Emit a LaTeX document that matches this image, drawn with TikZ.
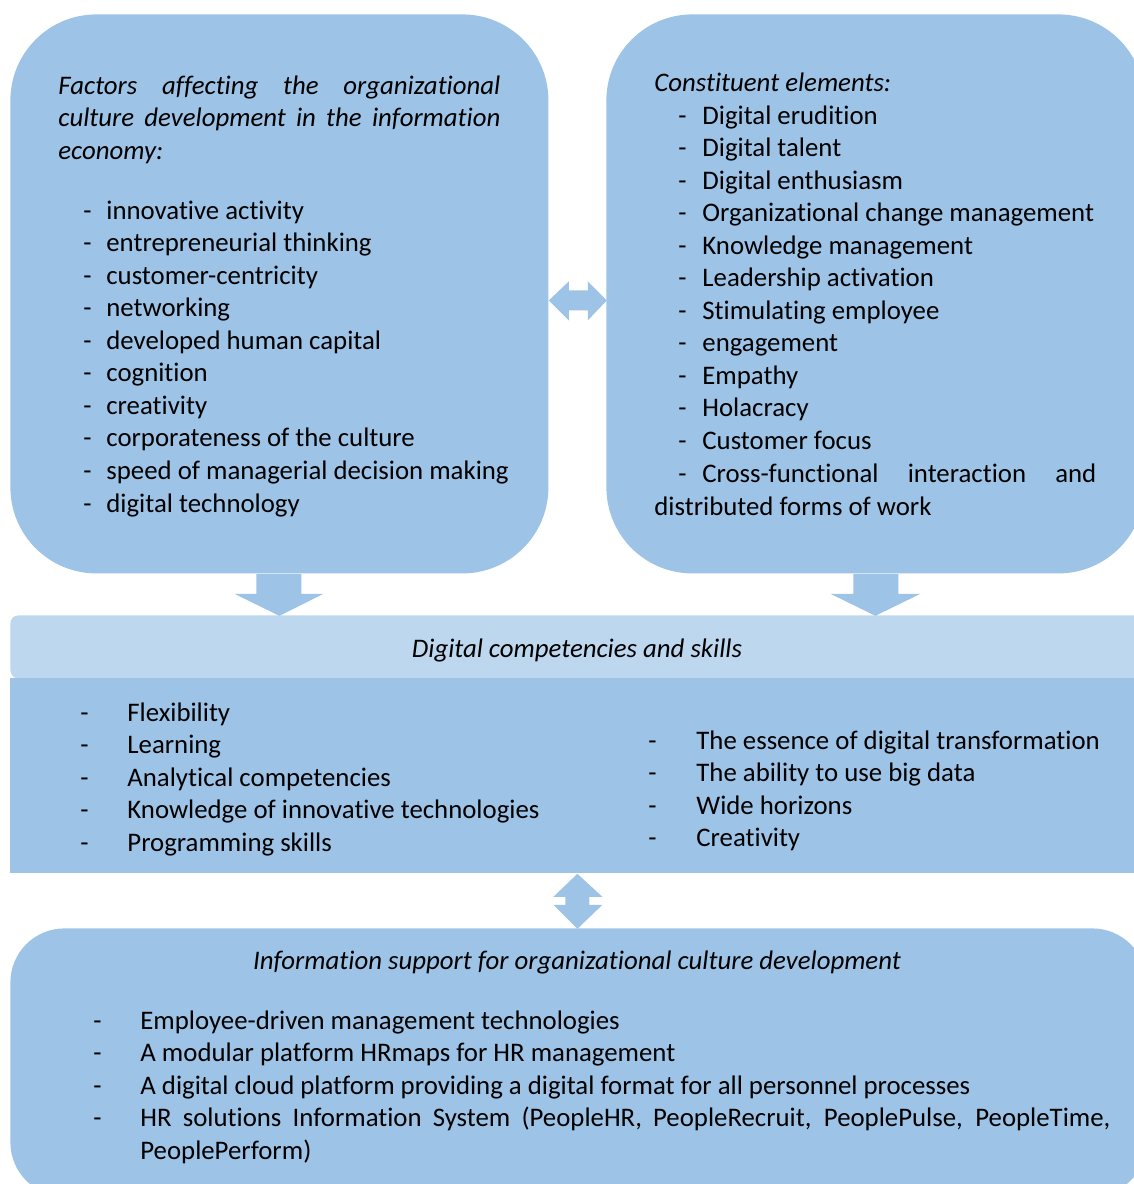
\documentclass[tikz,border=0pt]{standalone}
\usepackage{fontspec}
\setmainfont[Ligatures={NoCommon}]{Carlito}

\definecolor{boxblue}{HTML}{9DC3E6}
\definecolor{headblue}{HTML}{BDD7EE}

\tikzset{
  box/.style={fill=boxblue, draw=none, inner sep=0pt, anchor=north west},
  txt/.style={anchor=base west, inner sep=0pt, font=\fontsize{13.4pt}{16pt}\selectfont},
  ttl/.style={txt, font=\fontsize{13.4pt}{16pt}\selectfont\itshape}
}

\begin{document}
\begin{tikzpicture}[x=0.5pt,y=-0.5pt]
\useasboundingbox (0,0) rectangle (1134,1184);
\clip (0,0) rectangle (1134,1184);

% boxes
\node[box, rounded corners=43pt, minimum width=269pt, minimum height=279.5pt] (factors) at (10,14) {};
\node[box, rounded corners=43pt, minimum width=269pt, minimum height=279.5pt] (elements) at (606,14) {};
\node[box, fill=headblue, rounded corners=4pt, minimum width=570pt, minimum height=31.5pt] (skillshead) at (10,615) {};
\node[box, minimum width=570pt, minimum height=97.5pt] (skills) at (10,678) {};
\node[box, rounded corners=27pt, minimum width=568pt, minimum height=134pt] (support) at (10,928) {};

% block arrows
\fill[boxblue] ([yshift=-3.25pt]factors.east) -- ++(20,-19) -- ++(0,9) -- ++(19,0) -- ++(0,-9)
  -- ++(19,19) -- ++(-19,20) -- ++(0,-10) -- ++(-19,0) -- ++(0,10) -- cycle;
\fill[boxblue] (factors.south) -- ++(-23,0) -- ++(0,20) -- ++(-22,0) -- ++(45,22)
  -- ++(44,-22) -- ++(-22,0) -- ++(0,-20) -- cycle;
\fill[boxblue] (elements.south) -- ++(-22,0) -- ++(0,20) -- ++(-23,0) -- ++(45,22)
  -- ++(45,-22) -- ++(-22,0) -- ++(0,-20) -- cycle;
\fill[boxblue] ([xshift=-1.5pt]skills.south) -- ++(25,23) -- ++(-13,0) -- ++(0,8) -- ++(13,0)
  -- ++(-25,24) -- ++(-24,-24) -- ++(12,0) -- ++(0,-8) -- ++(-12,0) -- cycle;

% factors
\node[ttl] (f1) at (58,94) {\makebox[221pt][s]{Factors affecting the organizational}};
\node[ttl] (f2) at (58,126.5) {\makebox[221pt][s]{culture development in the information}};
\node[ttl] (f3) at (58,159) {economy:};
\foreach \t [count=\i] in {innovative activity, entrepreneurial thinking, customer-centricity,
  networking, developed human capital, cognition, creativity, corporateness of the culture,
  speed of managerial decision making, digital technology} {
  \node[txt] (fd\i) at (83,219+32.56*\i-32.56) {-};
  \node[txt] (fi\i) at (106,219+32.56*\i-32.56) {\t};
}

% elements
\node[ttl] (e0) at (654,91) {Constituent elements:};
\foreach \t [count=\i] in {Digital erudition, Digital talent, Digital enthusiasm,
  Organizational change management, Knowledge management, Leadership activation,
  Stimulating employee, engagement, Empathy, Holacracy, Customer focus} {
  \node[txt] (ed\i) at (678,124+32.55*\i-32.55) {-};
  \node[txt] (ei\i) at (702,124+32.55*\i-32.55) {\t};
}
\node[txt] (ed12) at (678,482) {-};
\node[txt] (ei12) at (702,482) {\makebox[197pt][s]{Cross-functional interaction and}};
\node[txt] (ei13) at (654,515) {distributed forms of work};

% competencies
\node[ttl, anchor=base] (s0) at (577,657) {Digital competencies and skills};
\foreach \t [count=\i] in {Flexibility, Learning, Analytical competencies,
  Knowledge of innovative technologies, Programming skills} {
  \node[txt] (sd\i) at (80,721+32.5*\i-32.5) {-};
  \node[txt] (si\i) at (127,721+32.5*\i-32.5) {\t};
}
\foreach \t [count=\i] in {The essence of digital transformation, The ability to use big data,
  Wide horizons, Creativity} {
  \node[txt] (rd\i) at (648,749+32.5*\i-32.5) {-};
  \node[txt] (ri\i) at (696,749+32.5*\i-32.5) {\t};
}

% information support
\node[ttl, anchor=base] (i0) at (577,969) {Information support for organizational culture development};
\foreach \t [count=\i] in {Employee-driven management technologies,
  A modular platform HRmaps for HR management,
  A digital cloud platform providing a digital format for all personnel processes} {
  \node[txt] (id\i) at (93,1029+32.5*\i-32.5) {-};
  \node[txt] (ii\i) at (140,1029+32.5*\i-32.5) {\t};
}
\node[txt] (id4) at (93,1126.5) {-};
\node[txt] (ii4) at (140,1126.5) {\makebox[485pt][s]{HR solutions Information System (PeopleHR, PeopleRecruit, PeoplePulse, PeopleTime,}};
\node[txt] (ii5) at (140,1159) {PeoplePerform)};

\end{tikzpicture}
\end{document}
